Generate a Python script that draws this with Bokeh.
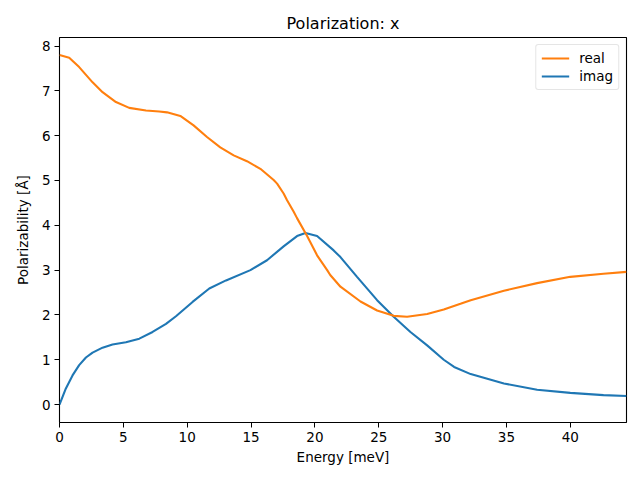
from bokeh.plotting import figure
from bokeh.models import Range1d, FixedTicker, Legend, LegendItem
from bokeh.embed import file_html
from bokeh.resources import INLINE

real_x = [0, 0.76, 1.54, 2.59, 3.37, 4.42, 5.46, 6.77, 7.81, 8.42, 9.46, 10.5, 11.55, 12.59, 13.64,
          14.68, 15.73, 16.77, 17.04, 17.55, 17.82, 18.34, 18.6, 19.39, 20.17, 20.96, 21.2, 22.0,
          23.57, 24.87, 26.17, 27.22, 28.79, 30.09, 31.4, 32.2, 34.8, 37.4, 40.0, 42.6, 44.4]
real_y = [7.80, 7.74, 7.53, 7.19, 6.97, 6.75, 6.62, 6.56, 6.54, 6.52, 6.44, 6.23, 5.97, 5.74, 5.56,
          5.43, 5.26, 5.01, 4.93, 4.71, 4.56, 4.30, 4.16, 3.76, 3.33, 3.00, 2.89, 2.63,
          2.30, 2.10, 1.98, 1.96, 2.02, 2.12, 2.25, 2.33, 2.54, 2.71, 2.85, 2.92, 2.96]

imag_x = [0, 0.5, 1.02, 1.54, 2.07, 2.59, 3.37, 4.15, 5.2, 6.25, 7.29, 8.34, 9.12, 10.42, 11.73,
          13.04, 14.95, 16.25, 17.55, 18.6, 19.26, 20.17, 21.47, 22.0, 23.3, 24.87, 26.17, 27.48,
          28.79, 30.09, 30.9, 32.2, 34.8, 37.4, 40.0, 42.6, 44.4]
imag_y = [0.0, 0.36, 0.65, 0.88, 1.05, 1.16, 1.27, 1.34, 1.39, 1.47, 1.62, 1.80, 1.97, 2.29, 2.59,
          2.77, 3.00, 3.22, 3.53, 3.76, 3.83, 3.76, 3.44, 3.29, 2.85, 2.33, 1.96, 1.62,
          1.32, 1.00, 0.84, 0.68, 0.47, 0.33, 0.26, 0.21, 0.19]

x_ticks = [0, 5, 10, 15, 20, 25, 30, 35, 40]
y_ticks = [0, 1, 2, 3, 4, 5, 6, 7, 8]

FONT = "DejaVu Sans"

p = figure(output_backend="svg", toolbar_location=None,
           frame_width=567, frame_height=385,
           min_border_left=59, min_border_top=37, min_border_right=14, min_border_bottom=58,
           x_range=Range1d(0, 44.4), y_range=Range1d(-0.4, 8.19),
           title="Polarization: x")

p.title.align = "center"
p.title.text_font = FONT
p.title.text_font_size = "16px"
p.title.text_font_style = "normal"
p.title.text_color = "black"

p.xgrid.visible = False
p.ygrid.visible = False
p.outline_line_color = "black"
p.outline_line_width = 1.1

for ax in (p.xaxis[0], p.yaxis[0]):
    ax.axis_line_color = None
    ax.major_tick_in = 0
    ax.major_tick_out = 5
    ax.major_tick_line_color = "black"
    ax.minor_tick_line_color = None
    ax.major_label_text_font = FONT
    ax.major_label_text_font_size = "13.5px"
    ax.major_label_text_color = "black"
    ax.axis_label_text_font = FONT
    ax.axis_label_text_font_size = "13.5px"
    ax.axis_label_text_font_style = "normal"
    ax.axis_label_text_color = "black"

p.xaxis.ticker = FixedTicker(ticks=x_ticks)
p.yaxis.ticker = FixedTicker(ticks=y_ticks)
p.xaxis.axis_label = "Energy [meV]"
p.yaxis.axis_label = "Polarizability [Å]"
p.xaxis.major_label_standoff = 4
p.yaxis.major_label_standoff = 4
p.xaxis.axis_label_standoff = 4
p.yaxis.axis_label_standoff = 8

r_imag = p.line(imag_x, imag_y, line_color="#1f77b4", line_width=2.1)
r_real = p.line(real_x, real_y, line_color="#ff7f0e", line_width=2.1)

legend = Legend(items=[LegendItem(label="real", renderers=[r_real]),
                       LegendItem(label="imag", renderers=[r_imag])],
                location="top_right")
legend.label_text_font = FONT
legend.label_text_font_size = "13.5px"
legend.label_text_color = "black"
legend.border_line_color = "#cccccc"
legend.border_line_width = 1
legend.border_radius = 3
legend.glyph_width = 28
legend.glyph_height = 14
legend.label_standoff = 10
legend.spacing = 2
legend.padding = 5
legend.margin = 7
legend.label_height = 14
p.add_layout(legend)

open("out.html", "w").write(file_html(p, INLINE))
